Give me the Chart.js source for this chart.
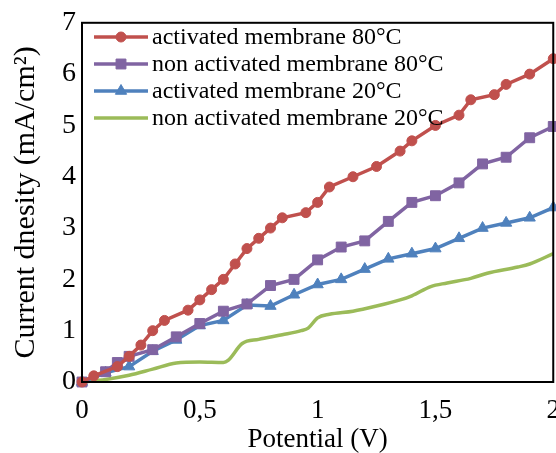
<!DOCTYPE html>
<html>
<head>
<meta charset="utf-8">
<script src="https://cdn.jsdelivr.net/npm/chart.js@4/dist/chart.umd.min.js"></script>
<style>
  html, body { margin: 0; padding: 0; background: #fff; overflow: hidden; }
  #wrap { width: 556px; height: 453px; overflow: hidden; position: relative; }
  #wrap canvas { position: absolute; left: 0; top: 0; }
</style>
</head>
<body>
<div id="wrap"><canvas id="c" width="573" height="456"></canvas></div>
<script>
// Polarisation curves: current density vs. potential
const seriesNames = [
  'activated membrane 80°C',
  'non activated membrane 80°C',
  'activated membrane 20°C',
  'non activated membrane 20°C'
];

const act80X = [0, 0.05, 0.15, 0.2, 0.25, 0.3, 0.35, 0.45, 0.5, 0.55, 0.6, 0.65, 0.7, 0.75, 0.8, 0.85, 0.95, 1.0, 1.05, 1.15, 1.25, 1.35, 1.4, 1.5, 1.6, 1.65, 1.75, 1.8, 1.9, 2.0];
const act80Y = [0, 0.12, 0.3, 0.5, 0.72, 1.0, 1.2, 1.4, 1.6, 1.8, 2.0, 2.3, 2.6, 2.8, 3.0, 3.2, 3.3, 3.5, 3.8, 4.0, 4.2, 4.5, 4.7, 5.0, 5.2, 5.5, 5.6, 5.8, 6.0, 6.3];

const non80X = [0, 0.1, 0.15, 0.2, 0.3, 0.4, 0.5, 0.6, 0.7, 0.8, 0.9, 1.0, 1.1, 1.2, 1.3, 1.4, 1.5, 1.6, 1.7, 1.8, 1.9, 2.0];
const non80Y = [0, 0.2, 0.38, 0.5, 0.63, 0.88, 1.14, 1.38, 1.52, 1.88, 2.0, 2.38, 2.63, 2.75, 3.13, 3.5, 3.63, 3.88, 4.25, 4.38, 4.76, 4.98];

const act20X = [0, 0.1, 0.2, 0.3, 0.4, 0.5, 0.6, 0.7, 0.8, 0.9, 1.0, 1.1, 1.2, 1.3, 1.4, 1.5, 1.6, 1.7, 1.8, 1.9, 2.0];
const act20Y = [0, 0.18, 0.3, 0.6, 0.82, 1.1, 1.2, 1.5, 1.48, 1.7, 1.9, 2.0, 2.2, 2.4, 2.5, 2.6, 2.8, 3.0, 3.1, 3.2, 3.4];

const non20X = [0, 0.1, 0.2, 0.3, 0.4, 0.5, 0.6, 0.62, 0.68, 0.75, 0.85, 0.93, 0.96, 1.0, 1.05, 1.15, 1.25, 1.35, 1.4, 1.48, 1.55, 1.65, 1.72, 1.85, 1.9, 2.0];
const non20Y = [0, 0.05, 0.13, 0.25, 0.37, 0.39, 0.38, 0.42, 0.75, 0.83, 0.92, 1.0, 1.05, 1.25, 1.32, 1.38, 1.48, 1.6, 1.68, 1.86, 1.93, 2.02, 2.12, 2.24, 2.3, 2.5];

const xTicks = [0, 0.5, 1, 1.5, 2];
const yTicks = [0, 1, 2, 3, 4, 5, 6, 7];

const FONT = "'Liberation Serif', 'Times New Roman', serif";

function pts(xs, ys) { return xs.map((x, i) => ({ x: x, y: ys[i] })); }

const colors = ['#C0504D', '#8064A2', '#4F81BD', '#9BBB59'];

const datasets = [
  { label: seriesNames[0], data: pts(act80X, act80Y), borderColor: colors[0], backgroundColor: colors[0],
    pointStyle: 'circle', pointRadius: 5, borderWidth: 3.5, pointBorderWidth: 1 },
  { label: seriesNames[1], data: pts(non80X, non80Y), borderColor: colors[1], backgroundColor: colors[1],
    pointStyle: 'rect', pointRadius: 7, borderWidth: 3.5, pointBorderWidth: 1 },
  { label: seriesNames[2], data: pts(act20X, act20Y), borderColor: colors[2], backgroundColor: colors[2],
    pointStyle: 'triangle', pointRadius: 6.5, borderWidth: 3.5, pointBorderWidth: 1 },
  { label: seriesNames[3], data: pts(non20X, non20Y), borderColor: colors[3], backgroundColor: colors[3],
    pointRadius: 0, borderWidth: 3.5, cubicInterpolationMode: 'monotone' }
].map(d => Object.assign({ clip: false, fill: false, pointHoverRadius: d.pointRadius }, d));

// Black frame around the plotting area
const framePlugin = {
  id: 'frame',
  afterDatasetsDraw(chart) {
    const { ctx, chartArea: a } = chart;
    ctx.save();
    ctx.strokeStyle = '#000';
    ctx.lineWidth = 2;
    ctx.strokeRect(a.left, a.top, a.right - a.left, a.bottom - a.top);
    ctx.restore();
  }
};

// Legend drawn inside the plot, top-left, without background
const innerLegend = {
  id: 'innerLegend',
  afterDraw(chart) {
    const { ctx } = chart;
    const x0 = 94, x1 = 148, tx = 152, y0 = 37, dy = 27;
    ctx.save();
    chart.data.datasets.forEach((ds, i) => {
      const y = y0 + i * dy;
      ctx.strokeStyle = ds.borderColor;
      ctx.lineWidth = ds.borderWidth;
      ctx.beginPath();
      ctx.moveTo(x0, y);
      ctx.lineTo(x1, y);
      ctx.stroke();
      if (ds.pointRadius > 0) {
        ctx.fillStyle = ds.backgroundColor;
        ctx.strokeStyle = ds.borderColor;
        ctx.lineWidth = 1;
        Chart.helpers.drawPoint(ctx, { pointStyle: ds.pointStyle, radius: ds.pointRadius, borderWidth: 1, rotation: 0 }, (x0 + x1) / 2, y);
      }
      ctx.fillStyle = '#000';
      ctx.font = '24px ' + FONT;
      ctx.textBaseline = 'middle';
      ctx.textAlign = 'left';
      ctx.fillText(ds.label, tx, y + 1);
    });
    ctx.restore();
  }
};

const fmt = v => String(v).replace('.', ',');

new Chart(document.getElementById('c'), {
  type: 'line',
  data: { datasets: datasets },
  options: {
    responsive: false,
    animation: false,
    layout: { padding: { left: 0, right: 0, top: 22, bottom: 0 } },
    plugins: { legend: { display: false }, tooltip: { enabled: false } },
    elements: { line: { tension: 0 } },
    scales: {
      x: {
        type: 'linear',
        min: 0, max: 2,
        afterBuildTicks: s => { s.ticks = xTicks.map(v => ({ value: v })); },
        grid: { display: false, drawTicks: false },
        border: { display: false },
        ticks: { color: '#000', font: { family: FONT, size: 27 }, padding: 13, maxRotation: 0, callback: fmt },
        title: { display: true, text: 'Potential (V)', color: '#000', font: { family: FONT, size: 27 }, padding: { top: 0, bottom: 0 } },
        afterFit: s => { s.height = 74; }
      },
      y: {
        type: 'linear',
        min: 0, max: 7,
        afterBuildTicks: s => { s.ticks = yTicks.map(v => ({ value: v })); },
        grid: { display: false, drawTicks: false },
        border: { display: false },
        ticks: { color: '#000', font: { family: FONT, size: 28 }, padding: 6, callback: fmt },
        title: { display: true, text: 'Current dnesity (mA/cm²)', color: '#000', font: { family: FONT, size: 30 }, padding: { top: 8, bottom: 0 } },
        afterFit: s => { s.width = 82; }
      }
    }
  },
  plugins: [framePlugin, innerLegend]
});
</script>
</body>
</html>
